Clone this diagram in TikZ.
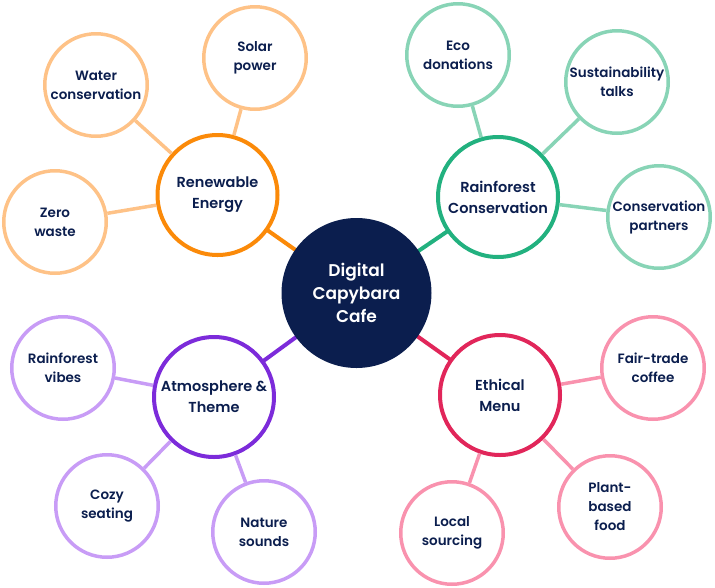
\documentclass[tikz,border=0pt]{standalone}
\usepackage{fontspec}
\setmainfont{Poppins}[UprightFont=* SemiBold]
\definecolor{navy}{HTML}{0B1E4E}
\definecolor{orangeM}{HTML}{FB8A09}
\definecolor{orangeL}{HTML}{FEC287}
\definecolor{greenM}{HTML}{22B17F}
\definecolor{greenL}{HTML}{88D4B6}
\definecolor{purpleM}{HTML}{7C2BDA}
\definecolor{purpleL}{HTML}{C89CF6}
\definecolor{redM}{HTML}{E1265A}
\definecolor{redL}{HTML}{F992AE}
\tikzset{
  hub/.style={circle, fill=navy, inner sep=0pt, minimum size=150pt, text=white, align=center, font=\fontsize{17}{23}\selectfont},
  mainc/.style={circle, draw=#1, line width=4pt, fill=white, inner sep=0pt, minimum size=120pt, text=navy, align=center, font=\fontsize{14.5}{21}\selectfont},
  leaf/.style={circle, draw=#1, line width=3.5pt, fill=white, inner sep=0pt, minimum size=102.5pt, text=navy, align=center, font=\fontsize{13.5}{19}\selectfont},
  mainlink/.style={draw=#1, line width=4pt},
  leaflink/.style={draw=#1, line width=3.5pt},
}
\begin{document}
\begin{tikzpicture}[x=1pt,y=-1pt]
\useasboundingbox (0,0) rectangle (715,587);
% positions
\coordinate (pC) at (356.5,293);
\coordinate (pRE) at (217.5,195);
\coordinate (pRC) at (498,197);
\coordinate (pAT) at (214,397);
\coordinate (pEM) at (500,395);
% connectors drawn first (behind)
\draw[mainlink=orangeM] (pC) -- (pRE);
\draw[mainlink=greenM] (pC) -- (pRC);
\draw[mainlink=purpleM] (pC) -- (pAT);
\draw[mainlink=redM] (pC) -- (pEM);
\node[hub] (C) at (pC) {Digital\\Capybara\\Cafe};
\node[mainc=orangeM] (RE) at (pRE) {Renewable\\Energy};
\node[mainc=greenM] (RC) at (pRC) {Rainforest\\Conservation};
\node[mainc=purpleM] (AT) at (pAT) {Atmosphere \&\\Theme};
\node[mainc=redM] (EM) at (pEM) {Ethical\\Menu};
% leaves
\node[leaf=orangeL] (WC) at (96,85) {Water\\conservation};
\node[leaf=orangeL] (SP) at (255,58) {Solar\\power};
\node[leaf=orangeL] (ZW) at (55,222) {Zero\\waste};
\node[leaf=greenL] (ED) at (458,55) {Eco\\donations};
\node[leaf=greenL] (ST) at (617,82) {Sustainability\\talks};
\node[leaf=greenL] (CP) at (659,217) {Conservation\\partners};
\node[leaf=purpleL] (RV) at (63,368) {Rainforest\\vibes};
\node[leaf=purpleL] (CS) at (107,506) {Cozy\\seating};
\node[leaf=purpleL] (NS) at (264,532) {Nature\\sounds};
\node[leaf=redL] (FC) at (653,368) {Fair-trade\\coffee};
\node[leaf=redL] (PB) at (610,507) {Plant-\\based\\food};
\node[leaf=redL] (LS) at (452,533) {Local\\sourcing};
% leaf connectors
\draw[leaflink=orangeL] (RE) -- (WC);
\draw[leaflink=orangeL] (RE) -- (SP);
\draw[leaflink=orangeL] (RE) -- (ZW);
\draw[leaflink=greenL] (RC) -- (ED);
\draw[leaflink=greenL] (RC) -- (ST);
\draw[leaflink=greenL] (RC) -- (CP);
\draw[leaflink=purpleL] (AT) -- (RV);
\draw[leaflink=purpleL] (AT) -- (CS);
\draw[leaflink=purpleL] (AT) -- (NS);
\draw[leaflink=redL] (EM) -- (FC);
\draw[leaflink=redL] (EM) -- (PB);
\draw[leaflink=redL] (EM) -- (LS);
\end{tikzpicture}
\end{document}
